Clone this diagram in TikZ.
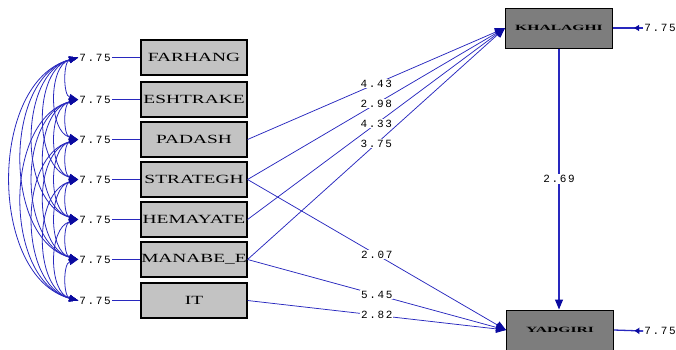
\documentclass[tikz,border=0pt]{standalone}
\usepackage{fontspec}
\setmainfont{Liberation Serif}
\newfontfamily\numfont[LetterSpace=15]{Liberation Mono}
\usetikzlibrary{arrows.meta,calc}
\definecolor{ln}{RGB}{40,40,190}
\definecolor{lnd}{RGB}{10,10,160}
\definecolor{lbox}{RGB}{195,195,195}
\definecolor{dbox}{RGB}{125,125,125}
\newcommand{\bxl}[1]{\scalebox{1.55}[1]{\fontsize{12.5}{12.5}\selectfont #1}}
\newcommand{\dxl}[1]{\scalebox{1.95}[1]{\fontsize{8}{8}\selectfont\bfseries #1}}
\begin{document}
\begin{tikzpicture}[x=1pt,y=-1pt,
  obs/.style={draw=black, line width=1.1pt, fill=lbox, minimum width=106pt, minimum height=35pt, inner sep=0pt},
  lat/.style={draw=black, line width=1pt, fill=dbox, minimum width=107pt, minimum height=40pt, inner sep=0pt},
  val/.style={font=\numfont\fontsize{11}{11}\selectfont, inner sep=1pt},
  coef/.style={val, fill=white},
  pth/.style={draw=ln, line width=0.75pt},
  tipb/.style={-{Triangle[length=10pt,width=8pt,color=lnd]}},
  cov/.style={draw=ln, line width=0.8pt, {Triangle[length=9pt,width=6.5pt,color=lnd]}-{Triangle[length=9pt,width=6.5pt,color=lnd]}},
]
\useasboundingbox (0,0) rectangle (676,349);
% observed
\node[obs] (b1) at (194,57.5) {\bxl{FARHANG}};
\node[obs] (b2) at (194,99.5) {\bxl{ESHTRAKE}};
\node[obs] (b3) at (194,139.5) {\bxl{PADASH}};
\node[obs] (b4) at (194,179.5) {\bxl{STRATEGH}};
\node[obs] (b5) at (194,219.5) {\bxl{HEMAYATE}};
\node[obs] (b6) at (194,259.5) {\bxl{MANABE\_E}};
\node[obs] (b7) at (194,300.5) {\bxl{IT}};
\foreach \i/\y in {1/57.5,2/99.5,3/139.5,4/179.5,5/219.5,6/259.5,7/300.5}{
  \node[val] (e\i) at (95,\y) {7.75};
  \draw[pth] (e\i.east) -- (b\i.west);
}
% covariances
\foreach \i in {1,...,6}{
  \pgfmathtruncatemacro{\s}{\i+1}
  \foreach \j in {\s,...,7}{
    \pgfmathsetmacro{\k}{0.37*40.5*(\j-\i)}
    \pgfmathsetmacro{\v}{4*(\j-\i)}
    \draw[cov] (e\i.west) .. controls +(-\k,\v) and +(-\k,-\v) .. (e\j.west);
  }
}
% latents
\node[lat] (kh) at (559,28) {\dxl{KHALAGHI}};
\node[lat] (yd) at (560,330) {\dxl{YADGIRI}};
\node[val] (ek) at (660,28) {7.75};
\node[val] (ey) at (660,331) {7.75};
\draw[pth, line width=1.3pt] (ek.west) -- (kh.east);
\draw[pth, line width=1.3pt, -{Triangle[length=5pt,width=6pt,color=lnd]}] (ek.west) -- ($(ek.west)!0.3!(kh.east)$);
\draw[pth, line width=1.3pt] (ey.west) -- (yd.east);
\draw[pth, line width=1.3pt, -{Triangle[length=5pt,width=6pt,color=lnd]}] (ey.west) -- ($(ey.west)!0.3!(yd.east)$);
% paths
\draw[pth,tipb] (b3.east) -- node[coef]{4.43} (kh.west);
\draw[pth,tipb] (b4.east) -- node[coef]{2.98} (kh.west);
\draw[pth,tipb] (b5.east) -- node[coef]{4.33} (kh.west);
\draw[pth,tipb] (b6.east) -- node[coef]{3.75} (kh.west);
\draw[pth,tipb] (b4.east) -- node[coef]{2.07} (yd.west);
\draw[pth,tipb] (b6.east) -- node[coef]{5.45} (yd.west);
\draw[pth,tipb] (b7.east) -- node[coef]{2.82} (yd.west);
\draw[pth,tipb,line width=1.1pt] (kh.south) -- node[coef]{2.69} (kh.south |- yd.north);
\end{tikzpicture}
\end{document}
